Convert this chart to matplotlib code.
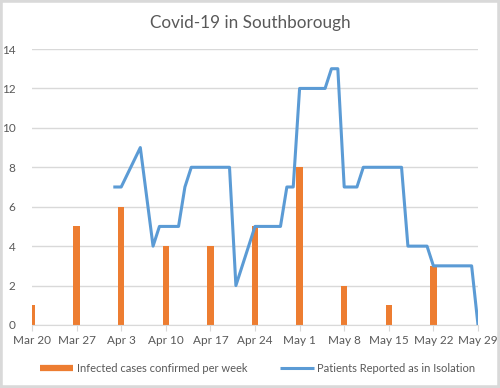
import matplotlib.pyplot as plt
import matplotlib.dates as mdates
from matplotlib.patches import Rectangle
from matplotlib.lines import Line2D
import pandas as pd

# weekly confirmed cases (bars)
week_dates = ["2020-03-20", "2020-03-27", "2020-04-03", "2020-04-10", "2020-04-17",
              "2020-04-24", "2020-05-01", "2020-05-08", "2020-05-15", "2020-05-22"]
week_cases = [1, 5, 6, 4, 4, 5, 8, 2, 1, 3]

# patients reported in isolation (line)
iso_dates = ["2020-04-02", "2020-04-03", "2020-04-06", "2020-04-08", "2020-04-09",
             "2020-04-12", "2020-04-13", "2020-04-14", "2020-04-20", "2020-04-21",
             "2020-04-24", "2020-04-28", "2020-04-29", "2020-04-30", "2020-05-01",
             "2020-05-05", "2020-05-06", "2020-05-07", "2020-05-08", "2020-05-10",
             "2020-05-11", "2020-05-17", "2020-05-18", "2020-05-21", "2020-05-22",
             "2020-05-28", "2020-05-29"]
iso_values = [7, 7, 9, 4, 5, 5, 7, 8, 8, 2, 5, 5, 7, 7, 12, 12, 13, 13, 7, 7,
              8, 8, 4, 4, 3, 3, 0]

tick_dates = week_dates + ["2020-05-29"]

ORANGE = "#ed7d31"
BLUE = "#5b9bd5"
GRID = "#d9d9d9"
TXT = "#595959"

plt.rcParams['font.family'] = ['Lato', 'DejaVu Sans']

fig = plt.figure(figsize=(5, 3.88), dpi=100)
fig.patches.append(Rectangle((0, 0), 1, 1, transform=fig.transFigure,
                             fill=False, edgecolor=GRID, linewidth=4))

ax = fig.add_axes([0.064, 0.1624, 0.892, 0.7113])

wd = pd.to_datetime(week_dates)
idates = pd.to_datetime(iso_dates)
tdates = pd.to_datetime(tick_dates)

ax.bar(wd, week_cases, width=1.0, color=ORANGE, zorder=2)
ax.plot(idates, iso_values, color=BLUE, linewidth=2.2, zorder=3)

ax.set_xlim(tdates[0], tdates[-1])
ax.set_ylim(0, 14)
ax.set_yticks(range(0, 15, 2))
ax.set_xticks(tdates)
ax.xaxis.set_major_formatter(mdates.DateFormatter("%b %-d"))

ax.grid(axis='y', color=GRID, linewidth=1, zorder=0)
for s in ['top', 'right', 'left']:
    ax.spines[s].set_visible(False)
ax.spines['bottom'].set_color(GRID)
ax.tick_params(axis='x', colors=TXT, labelsize=8.5, length=4, color=GRID, pad=3)
ax.tick_params(axis='y', colors=TXT, labelsize=8.5, length=0, pad=12)
ax.set_axisbelow(True)

fig.text(0.5, 0.94, "Covid-19 in Southborough", ha='center', va='center',
         fontsize=12.3, color=TXT)

handles = [Line2D([], [], color=ORANGE, linewidth=4.5, solid_capstyle='butt'),
           Line2D([], [], color=BLUE, linewidth=2.2, solid_capstyle='butt')]
labels = ["Infected cases confirmed per week", "Patients Reported as in Isolation"]
fig.legend(handles, labels, loc='center', bbox_to_anchor=(0.515, 0.051), ncol=2,
           frameon=False, fontsize=8, labelcolor=TXT, handlelength=3.0,
           columnspacing=3.0, handletextpad=0.3)

fig.savefig("out.png", dpi=100)
